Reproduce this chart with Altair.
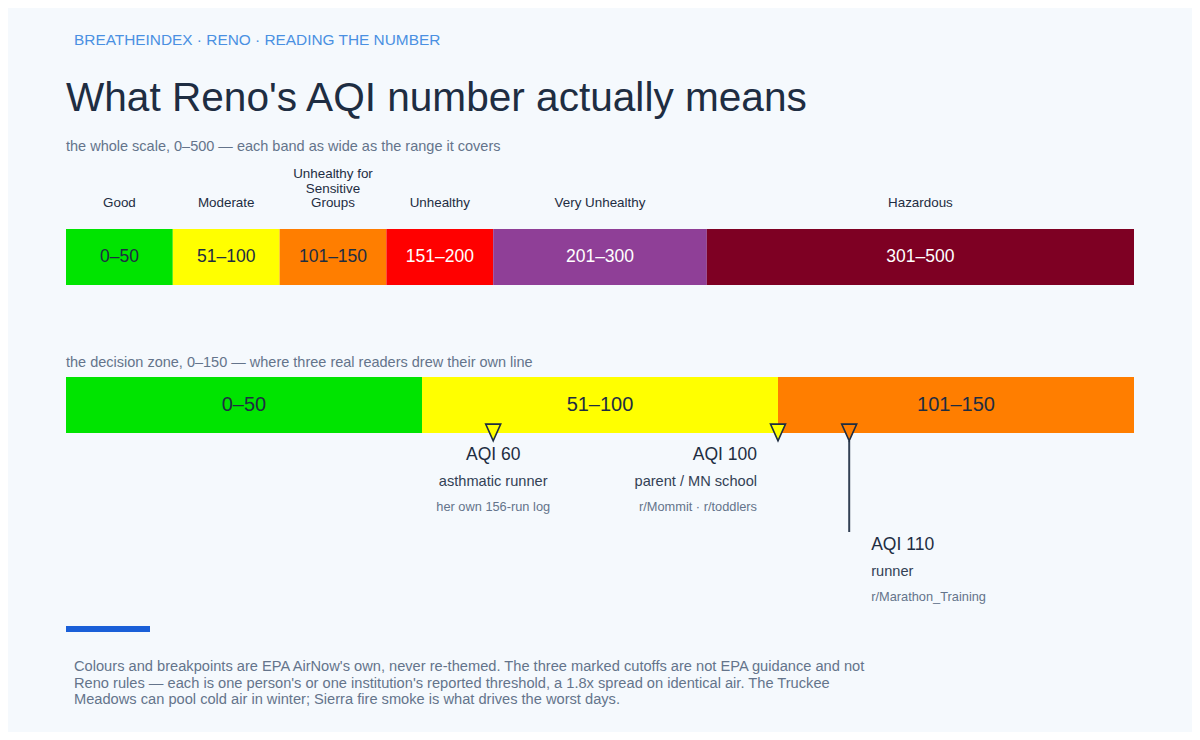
"""AQI bands for Reno: whole scale plus the 0-150 decision zone"""

import altair as alt
import pandas as pd

FONT = "Liberation Sans"
BG = "#f5f9fd"
INK = "#1e2d42"
SLATE = "#334155"
MUTED = "#64748b"

# EPA bands
band_names = ["Good", "Moderate", "Unhealthy for\nSensitive\nGroups", "Unhealthy", "Very Unhealthy", "Hazardous"]
band_ranges = ["0–50", "51–100", "101–150", "151–200", "201–300", "301–500"]
band_start = [0, 50, 100, 150, 200, 300]
band_end = [50, 100, 150, 200, 300, 500]
band_colors = ["#00e400", "#ffff00", "#ff7e00", "#ff0000", "#8f3f97", "#7e0023"]
band_text = ["#1e2d42", "#1e2d42", "#1e2d42", "#ffffff", "#ffffff", "#ffffff"]

# Reported cutoffs
cutoff_aqi = [60, 100, 110]
cutoff_titles = ["AQI 60", "AQI 100", "AQI 110"]
cutoff_readers = ["asthmatic runner", "parent / MN school", "runner"]
cutoff_sources = ["her own 156-run log", "r/Mommit · r/toddlers", "r/Marathon_Training"]
cutoff_fill = ["#ffff00", "#ffff00", "#ff7e00"]

FOOTNOTE = [
    "Colours and breakpoints are EPA AirNow's own, never re-themed. The three marked cutoffs are not EPA guidance and not",
    "Reno rules — each is one person's or one institution's reported threshold, a 1.8x spread on identical air. The Truckee",
    "Meadows can pool cold air in winter; Sierra fire smoke is what drives the worst days.",
]

# Plot positions inside the 1184 wide canvas
LEFT, RIGHT = 58, 1126
TRIANGLE = "M-1,-1.12L1,-1.12L0,1.12Z"

bands = pd.DataFrame({
    "name": band_names,
    "range": band_ranges,
    "start": band_start,
    "end": band_end,
    "color": band_colors,
    "ink": band_text,
})
bands["mid"] = (bands["start"] + bands["end"]) / 2
wrapped = bands["name"].str.contains("\n")

cutoffs = pd.DataFrame({
    "aqi": cutoff_aqi,
    "title": cutoff_titles,
    "reader": cutoff_readers,
    "source": cutoff_sources,
    "fill": cutoff_fill,
})

full_x = alt.Scale(domain=[0, 500], range=[LEFT, RIGHT])
zone_x = alt.Scale(domain=[0, 150], range=[LEFT, RIGHT])


def text_at(text, x, y, size, color, **kwargs):
    """One piece of fixed page text, y is the baseline."""
    return alt.Chart(pd.DataFrame({"t": [text]})).mark_text(
        font=FONT, fontSize=size, color=color, align="left", baseline="alphabetic", **kwargs
    ).encode(x=alt.value(x), y=alt.value(y), text="t:N")


def band_layers(df, scale, top, bottom, size):
    rects = alt.Chart(df).mark_rect().encode(
        x=alt.X("start:Q", scale=scale, axis=None),
        x2="end:Q",
        y=alt.value(top),
        y2=alt.value(bottom),
        color=alt.Color("color:N", scale=None),
    )
    labels = alt.Chart(df).mark_text(font=FONT, fontSize=size, baseline="middle").encode(
        x=alt.X("mid:Q", scale=scale, axis=None),
        y=alt.value((top + bottom) / 2),
        text="range:N",
        color=alt.Color("ink:N", scale=None),
    )
    return [rects, labels]


def name_layer(df, y):
    return alt.Chart(df).mark_text(
        font=FONT, fontSize=13.4, color=INK, baseline="alphabetic", lineBreak="\n", lineHeight=14.5
    ).encode(
        x=alt.X("mid:Q", scale=full_x, axis=None),
        y=alt.value(y),
        text="name:N",
    )


def cutoff_text(row, field, y, size, color, align, dx):
    return alt.Chart(cutoffs[cutoffs["aqi"] == row]).mark_text(
        font=FONT, fontSize=size, color=color, align=align, dx=dx, baseline="alphabetic"
    ).encode(
        x=alt.X("aqi:Q", scale=zone_x, axis=None),
        y=alt.value(y),
        text=f"{field}:N",
    )


layers = [
    text_at("BREATHEINDEX · RENO · READING THE NUMBER", 66, 37, 15.4, "#4a90e2"),
    text_at("What Reno's AQI number actually means", 58, 103, 40.6, INK),
    text_at("the whole scale, 0–500 — each band as wide as the range it covers", 58, 143, 14.5, MUTED),
    text_at("the decision zone, 0–150 — where three real readers drew their own line", 58, 359, 14.5, MUTED),
]

layers += band_layers(bands, full_x, 221, 277, 17.5)

layers.append(name_layer(bands[~wrapped], 199))
layers.append(name_layer(bands[wrapped], 170))

layers += band_layers(bands[bands["end"] <= 150], zone_x, 369, 425, 20)

# Leader for AQI 110 sits under its triangle
layers.append(
    alt.Chart(cutoffs[cutoffs["aqi"] == 110]).mark_rule(color=SLATE, strokeWidth=2).encode(
        x=alt.X("aqi:Q", scale=zone_x, axis=None),
        y=alt.value(433),
        y2=alt.value(524),
    )
)

layers.append(
    alt.Chart(cutoffs).mark_point(shape=TRIANGLE, size=225, filled=True, stroke=INK, strokeWidth=1.6, opacity=1).encode(
        x=alt.X("aqi:Q", scale=zone_x, axis=None),
        y=alt.value(424.5),
        fill=alt.Fill("fill:N", scale=None),
    )
)

for aqi, align, dx, y0 in [(60, "center", 0, 452), (100, "right", -21, 452), (110, "left", 22, 542)]:
    layers.append(cutoff_text(aqi, "title", y0, 17.5, INK, align, dx))
    layers.append(cutoff_text(aqi, "reader", y0 + 26, 14.6, SLATE, align, dx))
    layers.append(cutoff_text(aqi, "source", y0 + 51, 12.8, MUTED, align, dx))

# Accent bar above the footnote
layers.append(
    alt.Chart(pd.DataFrame({"a": [0], "b": [84]})).mark_rect(color="#1a5fd8").encode(
        x=alt.X("a:Q", scale=alt.Scale(domain=[0, 84], range=[LEFT, LEFT + 84]), axis=None),
        x2="b:Q",
        y=alt.value(618),
        y2=alt.value(624),
    )
)

layers.append(text_at("\n".join(FOOTNOTE), 66, 663, 14.65, MUTED, lineBreak="\n", lineHeight=16.5))

chart = alt.layer(*layers).resolve_scale(x="independent", color="independent").properties(
    width=1184,
    height=724,
    padding=0,
    background=BG,
    autosize=alt.AutoSizeParams(type="none"),
).configure_view(stroke=None)

chart.save("out.html", embed_options={"renderer": "svg", "actions": False})
